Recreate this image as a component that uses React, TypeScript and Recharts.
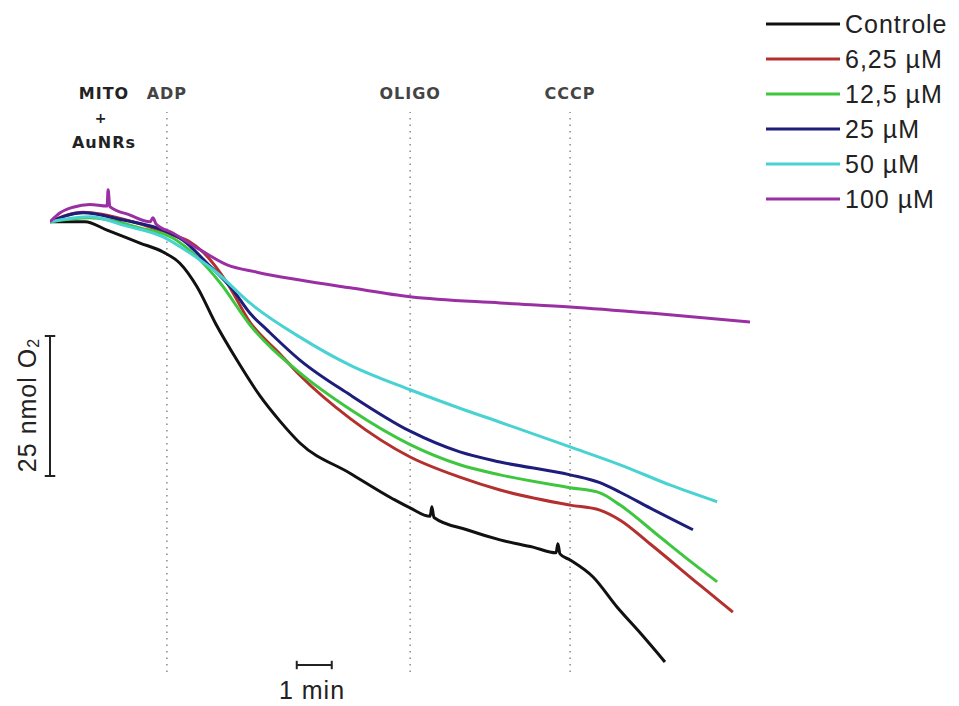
import React from 'react';
import { LineChart, Line, XAxis, YAxis, ReferenceLine } from 'recharts';

// time in min, O2 in nmol (arbitrary baseline)
const controle = [
  { t: 0, v: 80.4 }, { t: 1.0, v: 80.4 }, { t: 1.63, v: 78.9 }, { t: 2.57, v: 76.6 },
  { t: 3.23, v: 75.0 }, { t: 3.71, v: 73.0 }, { t: 4.2, v: 68.8 }, { t: 4.75, v: 62.0 },
  { t: 5.34, v: 55.7 }, { t: 6.0, v: 49.3 }, { t: 6.57, v: 44.8 }, { t: 7.14, v: 40.9 },
  { t: 8.57, v: 35.5 }, { t: 9.8, v: 30.9 }, { t: 10.29, v: 29.3 },
  { t: 10.86, v: 27.8 }, { t: 10.91, v: 29.5 }, { t: 10.97, v: 27.6 }, { t: 11.91, v: 25.4 },
  { t: 12.86, v: 23.6 }, { t: 13.8, v: 22.3 }, { t: 14.46, v: 21.3 }, { t: 14.51, v: 22.9 },
  { t: 14.57, v: 21.1 }, { t: 14.86, v: 20.0 }, { t: 15.51, v: 17.0 }, { t: 16.2, v: 11.6 },
  { t: 16.86, v: 7.0 }, { t: 17.57, v: 1.8 },
];

const um625 = [
  { t: 0, v: 80.4 }, { t: 0.94, v: 82.1 }, { t: 2.37, v: 80.4 }, { t: 3.51, v: 78.0 },
  { t: 4.0, v: 76.8 }, { t: 4.37, v: 75.0 }, { t: 5.06, v: 69.5 }, { t: 5.71, v: 62.5 },
  { t: 6.57, v: 56.8 }, { t: 7.14, v: 53.0 }, { t: 8.57, v: 45.3 }, { t: 10.29, v: 38.4 },
  { t: 11.71, v: 34.8 }, { t: 12.86, v: 32.5 }, { t: 14.86, v: 29.8 }, { t: 15.71, v: 28.9 },
  { t: 16.29, v: 27.1 }, { t: 17.14, v: 22.9 }, { t: 18.57, v: 15.5 }, { t: 19.51, v: 10.7 },
];

const um125 = [
  { t: 0, v: 80.4 }, { t: 1.14, v: 81.1 }, { t: 2.57, v: 79.3 }, { t: 3.51, v: 77.5 },
  { t: 4.2, v: 74.1 }, { t: 4.86, v: 69.5 }, { t: 5.71, v: 62.0 }, { t: 7.14, v: 53.4 },
  { t: 8.57, v: 46.9 }, { t: 10.29, v: 40.6 }, { t: 11.71, v: 37.0 }, { t: 12.86, v: 35.2 },
  { t: 14.86, v: 32.9 }, { t: 15.71, v: 32.0 }, { t: 16.29, v: 29.8 }, { t: 17.43, v: 24.1 },
  { t: 18.29, v: 19.8 }, { t: 19.06, v: 16.1 },
];

const um25 = [
  { t: 0, v: 80.4 }, { t: 0.94, v: 82.0 }, { t: 2.09, v: 80.7 }, { t: 3.23, v: 78.9 },
  { t: 3.8, v: 77.1 }, { t: 4.49, v: 73.0 }, { t: 5.23, v: 68.2 }, { t: 5.71, v: 64.1 },
  { t: 6.2, v: 61.1 }, { t: 7.14, v: 55.7 }, { t: 8.57, v: 49.5 }, { t: 10.29, v: 43.0 },
  { t: 11.71, v: 39.3 }, { t: 12.86, v: 37.5 }, { t: 14.86, v: 35.2 }, { t: 15.71, v: 33.8 },
  { t: 16.29, v: 32.1 }, { t: 17.14, v: 29.3 }, { t: 18.37, v: 25.4 },
];

const um50 = [
  { t: 0, v: 80.4 }, { t: 1.14, v: 81.3 }, { t: 2.09, v: 79.8 }, { t: 3.23, v: 77.7 },
  { t: 4.0, v: 74.8 }, { t: 4.77, v: 71.3 }, { t: 5.71, v: 65.9 }, { t: 7.14, v: 59.8 },
  { t: 8.57, v: 54.8 }, { t: 10.29, v: 50.4 }, { t: 11.71, v: 47.1 }, { t: 12.86, v: 44.6 },
  { t: 14.86, v: 40.2 }, { t: 16.29, v: 37.0 }, { t: 17.71, v: 33.4 }, { t: 19.06, v: 30.4 },
];

const um100 = [
  { t: 0, v: 80.4 }, { t: 0.29, v: 82.0 }, { t: 0.66, v: 83.0 }, { t: 1.14, v: 83.5 },
  { t: 1.63, v: 83.2 }, { t: 1.66, v: 86.1 }, { t: 1.71, v: 83.1 }, { t: 2.29, v: 81.6 },
  { t: 2.86, v: 80.4 }, { t: 2.94, v: 81.1 }, { t: 3.03, v: 80.0 }, { t: 3.51, v: 78.4 },
  { t: 4.29, v: 75.4 }, { t: 5.06, v: 72.7 }, { t: 5.91, v: 71.4 }, { t: 7.14, v: 70.0 },
  { t: 8.57, v: 68.6 }, { t: 10.29, v: 67.0 }, { t: 12.86, v: 65.9 }, { t: 14.86, v: 65.2 },
  { t: 17.14, v: 64.1 }, { t: 20.0, v: 62.5 },
];

const series = [
  { name: 'Controle', color: '#111111', data: controle },
  { name: '6,25 µM', color: '#b3302e', data: um625 },
  { name: '12,5 µM', color: '#3fc63f', data: um125 },
  { name: '25 µM', color: '#1d1d7c', data: um25 },
  { name: '50 µM', color: '#48d2d2', data: um50 },
  { name: '100 µM', color: '#9a2fa3', data: um100 },
];

const events = [
  { label: 'ADP', t: 3.34 },
  { label: 'OLIGO', t: 10.29 },
  { label: 'CCCP', t: 14.86 },
];

const font = '"Liberation Sans", Arial, sans-serif';
const boldFont = '"DejaVu Sans", Verdana, sans-serif';

export default function App() {
  return (
    <div style={{ position: 'absolute', left: 0, top: 0, width: 959, height: 706, background: '#fff', fontFamily: font }}>
      <LineChart width={959} height={706} data={controle}
        margin={{ top: 112, right: 209, bottom: 34, left: 50 }}>
        <XAxis type="number" dataKey="t" domain={[0, 20]} hide allowDataOverflow />
        <YAxis type="number" dataKey="v" domain={[0, 100]} hide allowDataOverflow />
        {events.map(e => (
          <ReferenceLine key={e.label} x={e.t} stroke="#8a8a8a" strokeWidth={1.5} strokeDasharray="1.5 5"
            label={{ value: e.label, position: 'top', offset: 13, fill: '#444', fontSize: 16, fontWeight: 700,
              fontFamily: boldFont, letterSpacing: 1 }} />
        ))}
        {/* scale bars: 25 nmol and 1 min */}
        <ReferenceLine segment={[{ x: 0, y: 35 }, { x: 0, y: 60 }]} stroke="#222" strokeWidth={2} ifOverflow="visible" />
        <ReferenceLine segment={[{ x: -0.15, y: 60 }, { x: 0.15, y: 60 }]} stroke="#222" strokeWidth={2} ifOverflow="visible" />
        <ReferenceLine segment={[{ x: -0.15, y: 35 }, { x: 0.15, y: 35 }]} stroke="#222" strokeWidth={2} ifOverflow="visible" />
        <ReferenceLine segment={[{ x: 7.05, y: 1.25 }, { x: 8.05, y: 1.25 }]} stroke="#222" strokeWidth={2} ifOverflow="visible" />
        <ReferenceLine segment={[{ x: 7.05, y: 0.5 }, { x: 7.05, y: 2.0 }]} stroke="#222" strokeWidth={2} ifOverflow="visible" />
        <ReferenceLine segment={[{ x: 8.05, y: 0.5 }, { x: 8.05, y: 2.0 }]} stroke="#222" strokeWidth={2} ifOverflow="visible" />
        {series.map(s => (
          <Line key={s.name} data={s.data} dataKey="v" type="monotone" stroke={s.color}
            strokeWidth={3} dot={false} activeDot={false} isAnimationActive={false} />
        ))}
      </LineChart>
      <svg width={959} height={706} style={{ position: 'absolute', left: 0, top: 0, pointerEvents: 'none' }}>
        <g fontFamily={boldFont} fontWeight={700} fontSize={16} fill="#222" textAnchor="middle" letterSpacing={1}>
          <text x={104} y={99}>MITO</text>
          <text x={101} y={123} fontSize={14}>+</text>
          <text x={104} y={148}>AuNRs</text>
        </g>
        <text x={27} y={405} fontSize={25} letterSpacing={1} fill="#222" textAnchor="middle"
          dominantBaseline="central" transform="rotate(-90 27 405)">
          25 nmol O<tspan fontSize={16} dy={6}>2</tspan>
        </text>
        <text x={312} y={699} fontSize={25} letterSpacing={1} fill="#222" textAnchor="middle">1 min</text>
        {series.map((s, i) => {
          const cy = 24 + i * 35;
          return (
            <g key={s.name}>
              <line x1={766} x2={840} y1={cy} y2={cy} stroke={s.color} strokeWidth={3} />
              <text x={845} y={cy + 9} fontSize={25} letterSpacing={1} fill="#222">{s.name}</text>
            </g>
          );
        })}
      </svg>
    </div>
  );
}
